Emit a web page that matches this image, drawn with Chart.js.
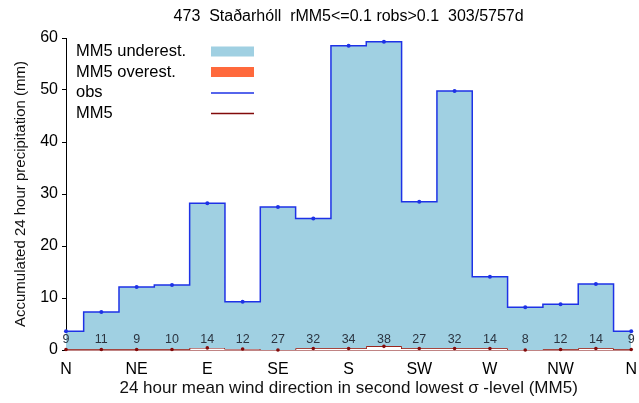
<!DOCTYPE html>
<html>
<head>
<meta charset="utf-8">
<script src="https://cdn.jsdelivr.net/npm/chart.js@4.4.1/dist/chart.umd.min.js"></script>
<style>
  html, body { margin: 0; padding: 0; background: #fff; }
</style>
</head>
<body>
<canvas id="c" width="639" height="403"></canvas>
<script>
// wind direction sectors, N repeated at both ends
const sectors = ['N','NNE','NE','ENE','E','ESE','SE','SSE','S','SSW','SW','WSW','W','WNW','NW','NNW','N'];
const tickNames = ['N','','NE','','E','','SE','','S','','SW','','W','','NW','','N'];
const obs = [3.6, 7.3, 12.1, 12.5, 28.2, 9.3, 27.5, 25.3, 58.5, 59.3, 28.5, 49.8, 14.1, 8.2, 8.8, 12.7, 3.6];
const mm5 = [0.1, 0.1, 0.1, 0.1, 0.4, 0.2, 0.0, 0.3, 0.3, 0.7, 0.3, 0.3, 0.3, 0.0, 0.1, 0.3, 0.1];
const counts = [9, 11, 9, 10, 14, 12, 27, 32, 34, 38, 27, 32, 14, 8, 12, 14, 9];
const titleText = '473  Staðarhóll  rMM5<=0.1 robs>0.1  303/5757d';

const BLUE = 'rgb(30,50,230)';
const DARKRED = 'rgb(130,10,10)';
const UNDER = 'rgb(160,208,226)';
const OVER = 'rgb(255,105,60)';
const FONT = '"Liberation Sans", Arial, sans-serif';

// each sector is a flat step half a sector wide either side of its centre
function steps(vals) {
  let pts = [];
  vals.forEach((v, i) => {
    pts.push({ x: Math.max(0, i - 0.5), y: v });
    pts.push({ x: Math.min(sectors.length - 1, i + 0.5), y: v });
  });
  return pts;
}
const dots = vals => vals.map((v, i) => ({ x: i, y: v }));

const decor = {
  id: 'decor',
  afterDatasetsDraw(chart) {
    const { ctx, scales: { x, y } } = chart;
    ctx.save();
    ctx.font = '12.5px ' + FONT;
    ctx.fillStyle = '#2b3440';
    ctx.textAlign = 'center';
    ctx.textBaseline = 'middle';
    counts.forEach((n, i) => {
      ctx.fillText(String(n), x.getPixelForValue(i), y.getPixelForValue(0) - 10);
    });
    ctx.restore();
  },
  afterDraw(chart) {
    const { ctx, chartArea } = chart;
    ctx.save();
    ctx.fillStyle = '#000';
    ctx.font = '16px ' + FONT;
    ctx.textAlign = 'center';
    ctx.textBaseline = 'middle';
    ctx.fillText(titleText, (chartArea.left + chartArea.right) / 2, 17);

    // legend in the upper left of the plot
    const items = [
      { label: 'MM5 underest.', type: 'box', color: UNDER },
      { label: 'MM5 overest.', type: 'box', color: OVER },
      { label: 'obs', type: 'line', color: BLUE },
      { label: 'MM5', type: 'line', color: DARKRED }
    ];
    ctx.font = '16.5px ' + FONT;
    ctx.textAlign = 'left';
    items.forEach((it, k) => {
      const yy = 51.5 + k * 20.5;
      ctx.fillStyle = '#000';
      ctx.fillText(it.label, chartArea.left + 10, yy);
      if (it.type === 'box') {
        ctx.fillStyle = it.color;
        ctx.fillRect(211, yy - 5, 43, 10);
      } else {
        ctx.strokeStyle = it.color;
        ctx.lineWidth = 1.3;
        ctx.beginPath();
        ctx.moveTo(211, yy + 0.5);
        ctx.lineTo(254, yy + 0.5);
        ctx.stroke();
      }
    });
    ctx.restore();
  }
};

new Chart(document.getElementById('c'), {
  type: 'line',
  data: {
    datasets: [
      {
        label: 'obs points', data: dots(obs), showLine: false, clip: 4,
        pointRadius: 2, pointBackgroundColor: BLUE, pointBorderWidth: 0
      },
      {
        label: 'MM5 points', data: dots(mm5), showLine: false, clip: 4,
        pointRadius: 1.8, pointBackgroundColor: DARKRED, pointBorderWidth: 0
      },
      {
        label: 'obs', data: steps(obs), borderColor: BLUE, borderWidth: 1.5,
        pointRadius: 0, tension: 0,
        fill: { target: '+1', above: UNDER, below: OVER }
      },
      {
        label: 'MM5', data: steps(mm5), borderColor: DARKRED, borderWidth: 1.2,
        pointRadius: 0, tension: 0,
        fill: { target: 'origin', above: '#fff' }
      }
    ]
  },
  options: {
    responsive: false,
    animation: false,
    layout: { padding: { top: 38, right: 5, left: 0, bottom: 0 } },
    plugins: { legend: { display: false }, tooltip: { enabled: false } },
    scales: {
      x: {
        type: 'linear', min: 0, max: 16,
        afterFit: s => { s.height = 53; },
        grid: { display: false },
        border: { display: true, color: DARKRED, width: 1.5 },
        ticks: {
          stepSize: 1, autoSkip: false, maxRotation: 0, padding: 2,
          color: '#000', font: { size: 16, family: FONT },
          callback: v => tickNames[v] || ''
        },
        title: {
          display: true, color: '#111', font: { size: 17, family: FONT },
          padding: { top: 4, bottom: 4 },
          text: '24 hour mean wind direction in second lowest σ -level (MM5)'
        }
      },
      y: {
        min: 0, max: 60,
        afterFit: s => { s.width = 66; },
        grid: { drawOnChartArea: false, drawTicks: true, tickLength: 4, color: '#000' },
        border: { display: true, color: '#000', width: 1 },
        ticks: { stepSize: 10, padding: 4, color: '#000', font: { size: 16, family: FONT } },
        title: {
          display: true, color: '#111', font: { size: 15, family: FONT },
          padding: { top: 12, bottom: 0 },
          text: 'Accumulated 24 hour precipitation (mm)'
        }
      }
    }
  },
  plugins: [decor]
});
</script>
</body>
</html>
